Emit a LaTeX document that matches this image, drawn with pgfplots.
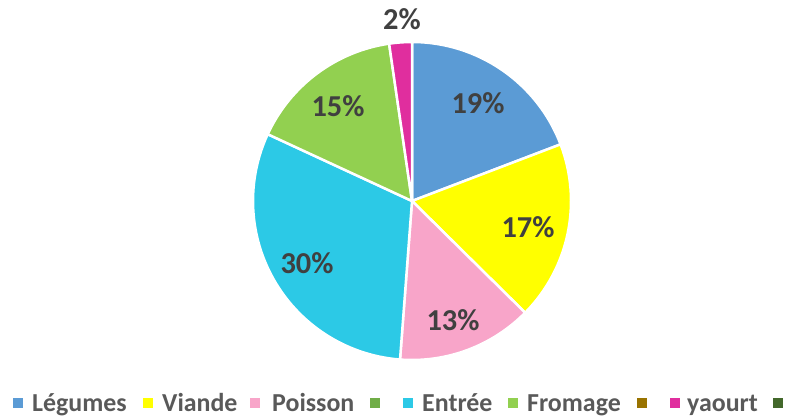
\documentclass[border=0pt]{standalone}
\usepackage{pgfplots}
\usepackage{pgfplotstable}
\pgfplotsset{compat=1.18}
\usepackage{fontspec}
\setmainfont{Carlito}
\definecolor{piecol0}{HTML}{5B9BD5}
\definecolor{piecol1}{HTML}{FFFF00}
\definecolor{piecol2}{HTML}{F8A5C9}
\definecolor{piecol3}{HTML}{2CC9E6}
\definecolor{piecol4}{HTML}{92D050}
\definecolor{piecol5}{HTML}{E02E9E}
\definecolor{legA}{HTML}{70AD47}
\definecolor{legB}{HTML}{997300}
\definecolor{legC}{HTML}{43682B}
\definecolor{lbl}{HTML}{404040}
\definecolor{legtxt}{HTML}{595959}

\pgfplotstableread{
name value
Legumes 19.2
Viande 18.2
Poisson 13.8
Entree 30.7
Fromage 15.8
yaourt 2.3
}\piedata

\begin{document}
\begin{tikzpicture}
\def\cum{0}
\pgfplotsinvokeforeach{0,...,5}{%
  \pgfplotstablegetelem{#1}{value}\of\piedata
  \pgfmathsetmacro\pa{90-\cum*3.6}%
  \pgfmathsetmacro\cumnew{\cum+\pgfplotsretval}%
  \pgfmathsetmacro\pb{90-\cumnew*3.6}%
  \expandafter\xdef\csname pieS#1\endcsname{\pa}%
  \expandafter\xdef\csname pieE#1\endcsname{\pb}%
  \xdef\cum{\cumnew}%
}
\begin{axis}[
  x=1bp, y=1bp, xmin=0, xmax=791, ymin=0, ymax=417,
  hide axis, clip=false, scale only axis,
]
\path (axis cs:0,0) rectangle (axis cs:791,417);
\pgfplotsinvokeforeach{0,...,5}{
  \filldraw[fill=piecol#1, draw=white, line width=2.5bp, line join=miter]
    (axis cs:412,216) -- ++(\csname pieS#1\endcsname:159bp)
    arc[start angle=\csname pieS#1\endcsname, end angle=\csname pieE#1\endcsname, radius=159bp] -- cycle;
}
% data labels
\begin{scope}[every node/.style={font=\fontsize{30.5}{32}\selectfont\bfseries, text=lbl, inner sep=0pt}]
\node at (axis cs:478,314) {19\%};
\node at (axis cs:528,190) {17\%};
\node at (axis cs:453,97) {13\%};
\node at (axis cs:307,154) {30\%};
\node at (axis cs:338,311) {15\%};
\node at (axis cs:402,398) {2\%};
\end{scope}
% legend
\begin{scope}[every node/.style={font=\fontsize{26}{28}\selectfont\bfseries, text=legtxt, inner sep=0pt, anchor=base west}]
\fill[piecol0] (axis cs:13,9) rectangle (axis cs:23,19);
\node at (axis cs:32,6) {Légumes};
\fill[piecol1] (axis cs:143,9) rectangle (axis cs:153,19);
\node at (axis cs:162,6) {Viande};
\fill[piecol2] (axis cs:250,9) rectangle (axis cs:260,19);
\node at (axis cs:272,6) {Poisson};
\fill[legA] (axis cs:370,9) rectangle (axis cs:380,19);
\fill[piecol3] (axis cs:403,9) rectangle (axis cs:413,19);
\node at (axis cs:422,6) {Entrée};
\fill[piecol4] (axis cs:508,9) rectangle (axis cs:518,19);
\node at (axis cs:527,6) {Fromage};
\fill[legB] (axis cs:637,9) rectangle (axis cs:647,19);
\fill[piecol5] (axis cs:670,9) rectangle (axis cs:680,19);
\node at (axis cs:687,6) {yaourt};
\fill[legC] (axis cs:773,9) rectangle (axis cs:783,19);
\end{scope}
\end{axis}
\end{tikzpicture}
\end{document}
